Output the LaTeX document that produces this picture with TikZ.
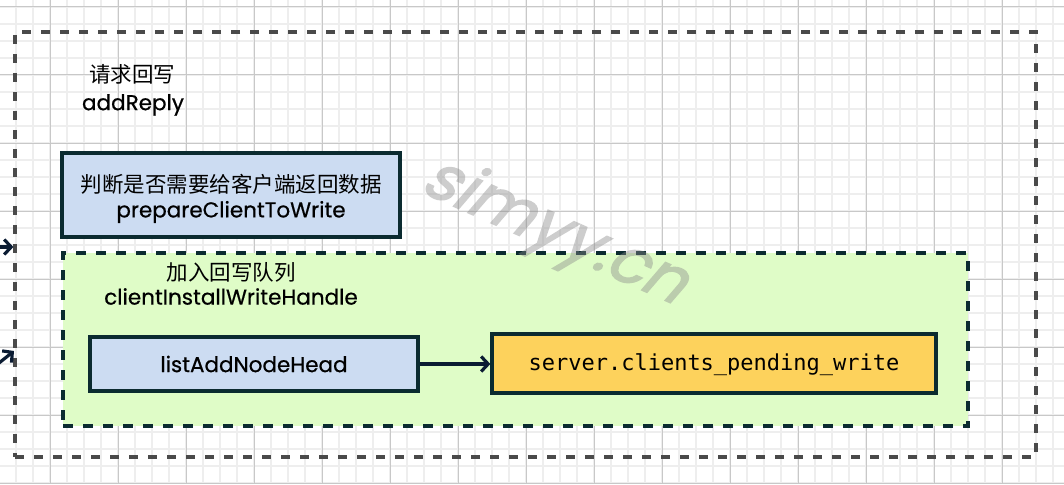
\documentclass[tikz,border=0pt]{standalone}
\usepackage{fontspec}
\setmainfont{Poppins}[FakeBold=0.6]
\newfontfamily\cjk{Noto Sans CJK SC}
\newfontfamily\mono{DejaVu Sans Mono}
\newfontfamily\wmfont[FakeSlant=0.3, FakeBold=2]{Poppins}
\usetikzlibrary{arrows.meta}
\definecolor{gridminor}{HTML}{EEEEEE}
\definecolor{gridmajor}{HTML}{C8C8C8}
\definecolor{outergray}{HTML}{4A4A4A}
\definecolor{boxline}{HTML}{0B2B30}
\definecolor{bluefill}{HTML}{CCDCF2}
\definecolor{greenfill}{HTML}{DFFCC7}
\definecolor{yellowfill}{HTML}{FDD25C}
\definecolor{arrowcol}{HTML}{0B1C33}
\definecolor{wmark}{HTML}{8A8A8A}
\tikzset{
  outerbox/.style={draw=outergray, line width=3.2pt, dash pattern=on 9pt off 10pt, inner sep=0pt},
  groupbox/.style={draw=boxline, fill=greenfill, line width=3.3pt, dash pattern=on 10pt off 10pt, inner sep=0pt},
  bluebox/.style={draw=boxline, fill=bluefill, line width=3.3pt, inner sep=0pt},
  yellowbox/.style={draw=boxline, fill=yellowfill, line width=3.3pt, inner sep=0pt},
  cjktext/.style={inner sep=0pt, font=\cjk\fontsize{21.5}{24}\selectfont},
  lattext/.style={inner sep=0pt, font=\fontsize{21.5}{24}\selectfont},
  monotext/.style={inner sep=0pt, font=\mono\fontsize{22}{26}\selectfont},
  arr/.style={draw=arrowcol, line width=3.2pt, -{Straight Barb[length=7pt,width=15pt]}},
  watermark/.style={inner sep=0pt, text=wmark, font=\wmfont\fontsize{64}{72}\selectfont}
}
\begin{document}
\begin{tikzpicture}[x=1pt,y=-1pt]
\useasboundingbox (0,0) rectangle (1064,484);
\fill[white] (0,0) rectangle (1064,484);
% grid
\foreach \x in {-1,16,...,1070} \draw[gridminor, line width=1.6pt] (\x,0) -- (\x,484);
\foreach \y in {7,24,...,490} \draw[gridminor, line width=1.6pt] (0,\y) -- (1064,\y);
\foreach \x in {50,118,...,1070} \draw[gridmajor, line width=1pt] (\x,0) -- (\x,484);
\foreach \y in {7,75,...,490} \draw[gridmajor, line width=1pt] (0,\y) -- (1064,\y);

% outer group
\node[outerbox, minimum width=1021pt, minimum height=425pt] (outer) at (525.5,244.5) {};
\node[cjktext] (t1) at (132,74) {请求回写};
\node[lattext] (t2) at (133,105) {addReply};

% prepare box
\node[bluebox, minimum width=338pt, minimum height=84pt] (prep) at (231,195) {};
\node[cjktext] (prepzh) at (231,184.5) {判断是否需要给客户端返回数据};
\node[lattext] (prepen) at (231,212) {prepareClientToWrite};

% green group
\node[groupbox, minimum width=905pt, minimum height=173pt] (grp) at (515.5,339.5) {};
\node[cjktext] (g1) at (231,272.5) {加入回写队列};
\node[lattext] (g2) at (231,296.5) {clientInstallWriteHandle};

\node[bluebox, minimum width=328pt, minimum height=54pt] (lanh) at (254,364) {};
\node[lattext] (lanht) at (lanh.center) {listAddNodeHead};
\node[yellowbox, minimum width=444pt, minimum height=59pt] (pend) at (714,363.5) {};
\node[monotext] (pendt) at (714,364.5) {server.clients\_pending\_write};

\draw[arr] (lanh.east) -- (lanh.east -| pend.west);

% arrows entering from the left
\coordinate (in1) at (-4,247);
\coordinate (in2) at (-6,367);
\coordinate (e2) at (14,351);
\draw[arr] (in1) -- (in1 -| outer.west);
\draw[arr] (in2) -- (e2);

% watermark
\begin{scope}[transparency group, opacity=0.42]
\node[watermark, rotate=-24] (wm) at (553,233) {simyy.cn};
\end{scope}
\end{tikzpicture}
\end{document}
